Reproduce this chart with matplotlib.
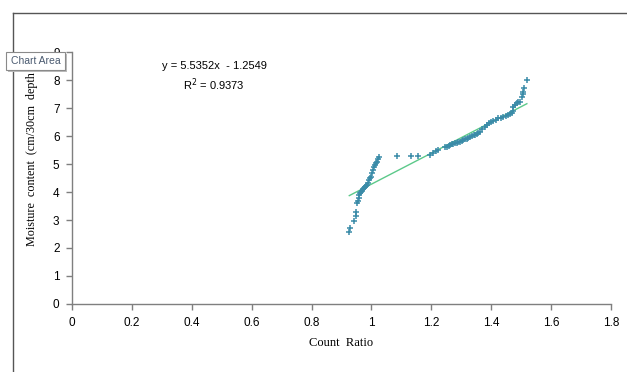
import matplotlib
matplotlib.use('Agg')
import matplotlib.pyplot as plt
import numpy as np
from matplotlib.lines import Line2D
from matplotlib.patches import Rectangle
from matplotlib.transforms import Bbox, TransformedBbox

# values
count_ratio = [0.926, 0.928, 0.943, 0.947, 0.949, 0.953, 0.954, 0.957, 0.960,
               0.962, 0.964, 0.967, 0.971, 0.975, 0.979, 0.983, 0.986, 0.990,
               0.993, 0.996, 0.998, 1.001, 1.004, 1.007, 1.012, 1.015, 1.020,
               1.023, 1.026, 1.087, 1.132, 1.155, 1.196, 1.207, 1.215, 1.221,
               1.246, 1.252, 1.258, 1.262, 1.268, 1.274, 1.279, 1.285, 1.290,
               1.296, 1.302, 1.307, 1.313, 1.318, 1.324, 1.329, 1.335, 1.341,
               1.346, 1.352, 1.357, 1.363, 1.370, 1.378, 1.385, 1.392, 1.400,
               1.407, 1.415, 1.424, 1.432, 1.441, 1.449, 1.457, 1.463, 1.469,
               1.472, 1.474, 1.480, 1.485, 1.490, 1.496, 1.502, 1.505, 1.507,
               1.511, 1.519]
moisture = [2.58, 2.70, 2.96, 3.13, 3.30, 3.62, 3.69, 3.80, 3.89,
            3.95, 4.01, 4.05, 4.10, 4.14, 4.19, 4.22, 4.25, 4.32,
            4.43, 4.49, 4.55, 4.67, 4.79, 4.88, 4.96, 5.02, 5.08,
            5.17, 5.26, 5.29, 5.29, 5.29, 5.32, 5.38, 5.46, 5.50,
            5.60, 5.62, 5.65, 5.68, 5.70, 5.72, 5.74, 5.76, 5.78,
            5.80, 5.83, 5.85, 5.88, 5.90, 5.93, 5.95, 5.99, 6.02,
            6.04, 6.08, 6.12, 6.15, 6.25, 6.33, 6.40, 6.45, 6.50,
            6.54, 6.57, 6.63, 6.66, 6.69, 6.72, 6.75, 6.78, 6.81,
            6.90, 7.05, 7.10, 7.17, 7.20, 7.23, 7.40, 7.50, 7.58,
            7.70, 8.00]

slope, intercept = 5.5352, -1.2549
r2 = 0.9373

fig = plt.figure(figsize=(6.27, 3.72), dpi=100)
ax = fig.add_axes([72/627, 68/372, 539/627, 252/372])

xfit = np.array([min(count_ratio), max(count_ratio)])
ax.plot(xfit, slope*xfit + intercept, color='#5CC98A', lw=1.0, zorder=2)
ax.scatter(count_ratio, moisture, marker='+', s=16, color='#3A8BA8',
           linewidths=1.1, zorder=3)

ax.set_xlim(0, 1.8)
ax.set_ylim(0, 9)
ax.set_xticks(np.arange(0, 1.81, 0.2))
ax.set_xticklabels(['0', '0.2', '0.4', '0.6', '0.8', '1', '1.2', '1.4', '1.6', '1.8'])
ax.set_yticks(range(0, 10))
for s in ['top', 'right']:
    ax.spines[s].set_visible(False)
for s in ['left', 'bottom']:
    ax.spines[s].set_color('#7f7f7f')
    ax.spines[s].set_linewidth(1.0)
ax.tick_params(direction='out', length=4, color='#7f7f7f', width=1,
               labelsize=8.5, pad=5)
for lab in ax.get_xticklabels() + ax.get_yticklabels():
    lab.set_fontfamily('Liberation Sans')

ax.set_xlabel('Count  Ratio', fontfamily='Liberation Serif', fontsize=9,
              labelpad=6)

# y label, partly hidden at the top as in the original
ylab = fig.text(32/627, (372-246)/372, 'Moisture  content  (cm/30cm  depth)',
                rotation=90, ha='center', va='bottom',
                fontfamily='Liberation Serif', fontsize=8.7)
ylab.set_clip_box(TransformedBbox(Bbox([[0, 0], [1, (372-73)/372]]),
                                  fig.transFigure))
ylab.set_clip_on(True)

ax.text((214-72)/299.4, (304-77)/28, 'y = 5.5352x  - 1.2549\nR$^2$ = 0.9373',
        ha='center', va='center', fontfamily='Liberation Sans', fontsize=8,
        linespacing=1.35)

# chart area border
fig.add_artist(Line2D([13/627, 1], [1-13/372, 1-13/372],
                      transform=fig.transFigure, color='#555555', lw=1))
fig.add_artist(Line2D([13/627, 13/627], [0, 1-13/372],
                      transform=fig.transFigure, color='#555555', lw=1))

# "Chart Area" tooltip
fig.add_artist(Rectangle((8/627, (372-72)/372), 59/627, 18/372,
                         transform=fig.transFigure, facecolor='#bbbbbb',
                         edgecolor='none', zorder=9))
fig.add_artist(Rectangle((6/627, (372-70)/372), 59/627, 18/372,
                         transform=fig.transFigure, facecolor='white',
                         edgecolor='#8a8a8a', lw=0.8, zorder=10))
fig.text(35.5/627, (372-61)/372, 'Chart Area', ha='center', va='center',
         fontsize=7.5, color='#4a5a70', fontfamily='Liberation Sans', zorder=11)

plt.savefig('out.png', dpi=100)
